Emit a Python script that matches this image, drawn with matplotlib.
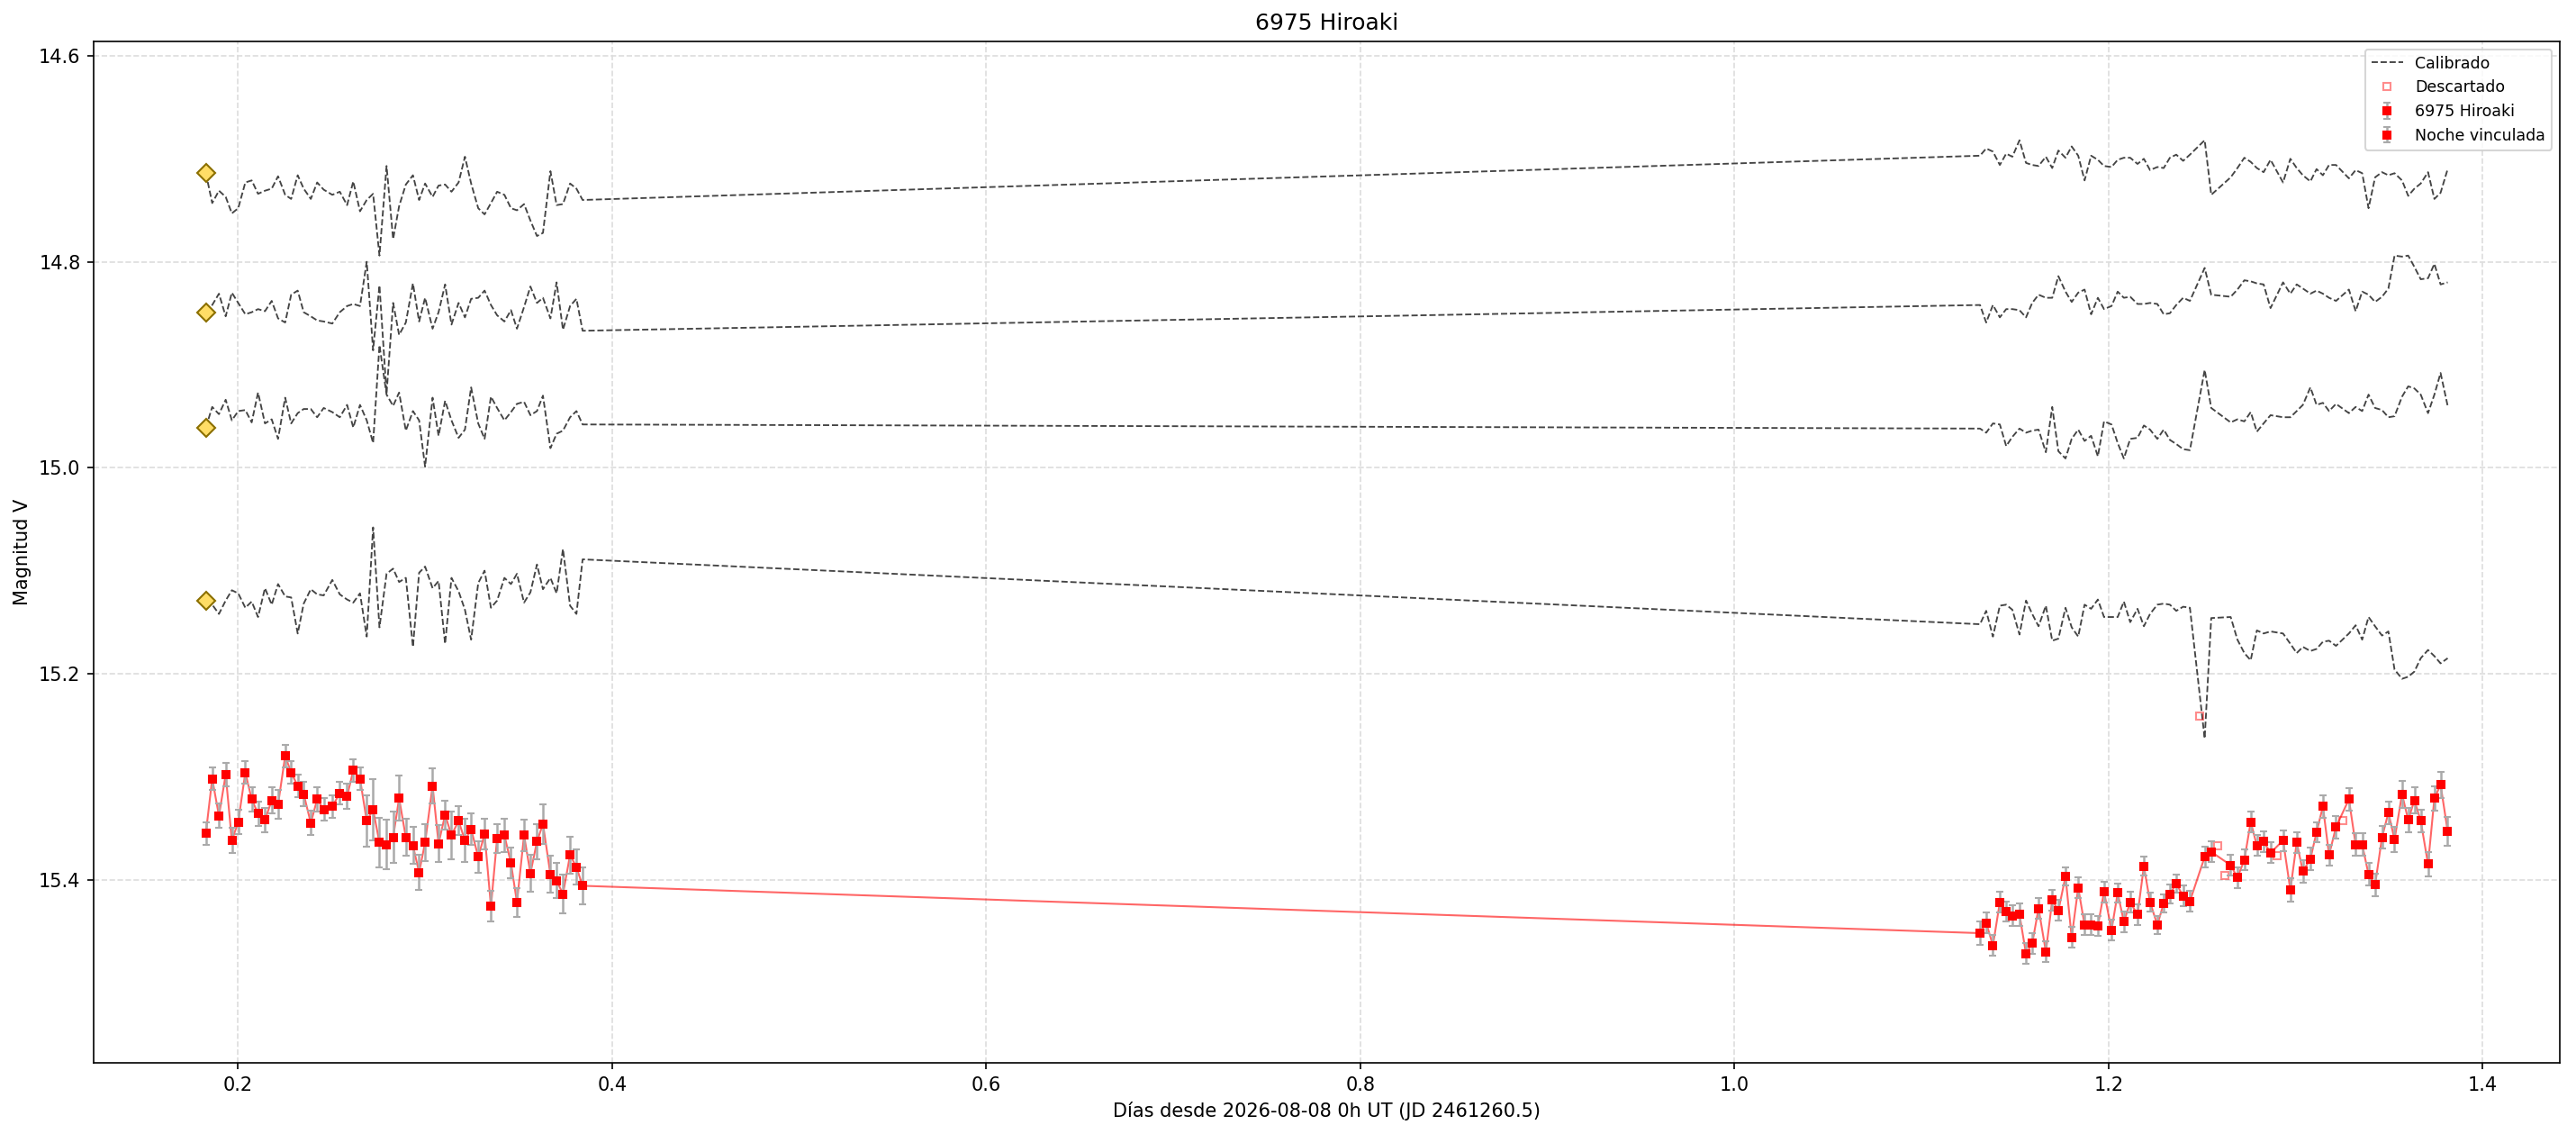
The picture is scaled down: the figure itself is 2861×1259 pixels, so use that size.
import matplotlib
matplotlib.use('Agg')
import matplotlib.pyplot as plt

# --- Night 1 (target) ---
t1 = [0.1829, 0.1863, 0.1899, 0.1935, 0.1968, 0.2002, 0.2040, 0.2074, 0.2108, 0.2145,
      0.2181, 0.2215, 0.2253, 0.2285, 0.2320, 0.2352, 0.2390, 0.2424, 0.2459, 0.2505,
      0.2545, 0.2584, 0.2617, 0.2653, 0.2689, 0.2723, 0.2757, 0.2795, 0.2830, 0.2862,
      0.2898, 0.2936, 0.2969, 0.3001, 0.3041, 0.3073, 0.3108, 0.3142, 0.3180, 0.3214,
      0.3247, 0.3285, 0.3319, 0.3353, 0.3386, 0.3425, 0.3460, 0.3492, 0.3530, 0.3564,
      0.3599, 0.3631, 0.3671, 0.3704, 0.3738, 0.3776, 0.3810, 0.3843]
m1 = [15.355, 15.302, 15.338, 15.298, 15.362, 15.344, 15.296, 15.322, 15.336, 15.342,
      15.323, 15.327, 15.280, 15.296, 15.309, 15.317, 15.345, 15.322, 15.332, 15.329,
      15.316, 15.319, 15.294, 15.302, 15.343, 15.332, 15.364, 15.366, 15.359, 15.321,
      15.359, 15.367, 15.393, 15.364, 15.309, 15.365, 15.337, 15.357, 15.343, 15.362,
      15.351, 15.378, 15.356, 15.426, 15.360, 15.357, 15.384, 15.422, 15.357, 15.394,
      15.363, 15.346, 15.395, 15.401, 15.414, 15.376, 15.388, 15.406]
e1 = [0.011, 0.011, 0.012, 0.011, 0.012, 0.012, 0.011, 0.012, 0.012, 0.012,
      0.013, 0.014, 0.011, 0.011, 0.011, 0.012, 0.012, 0.012, 0.011, 0.011,
      0.011, 0.012, 0.011, 0.011, 0.025, 0.030, 0.024, 0.024, 0.025, 0.022,
      0.018, 0.018, 0.017, 0.018, 0.017, 0.018, 0.014, 0.023, 0.014, 0.021,
      0.015, 0.015, 0.015, 0.015, 0.014, 0.016, 0.015, 0.014, 0.015, 0.018,
      0.017, 0.019, 0.018, 0.017, 0.019, 0.018, 0.017, 0.018]

# --- Night 2 (linked night) ---
t2 = [1.1313, 1.1346, 1.1382, 1.1419, 1.1453, 1.1486, 1.1524, 1.1559, 1.1592, 1.1626,
      1.1665, 1.1699, 1.1732, 1.1770, 1.1803, 1.1838, 1.1872, 1.1907, 1.1943, 1.1976,
      1.2016, 1.2049, 1.2082, 1.2116, 1.2155, 1.2189, 1.2222, 1.2261, 1.2295, 1.2328,
      1.2362, 1.2399, 1.2435, 1.2514, 1.2549, 1.2653, 1.2689, 1.2726, 1.2760, 1.2793,
      1.2829, 1.2866, 1.2933, 1.2972, 1.3006, 1.3039, 1.3079, 1.3112, 1.3146, 1.3179,
      1.3216, 1.3285, 1.3321, 1.3356, 1.3390, 1.3425, 1.3462, 1.3496, 1.3529, 1.3569,
      1.3602, 1.3635, 1.3669, 1.3708, 1.3742, 1.3775, 1.3813]
m2 = [15.452, 15.442, 15.464, 15.422, 15.431, 15.435, 15.434, 15.472, 15.462, 15.428,
      15.470, 15.420, 15.430, 15.397, 15.456, 15.408, 15.444, 15.444, 15.445, 15.412,
      15.449, 15.413, 15.441, 15.422, 15.434, 15.387, 15.422, 15.444, 15.423, 15.414,
      15.404, 15.416, 15.421, 15.378, 15.373, 15.386, 15.398, 15.381, 15.344, 15.367,
      15.363, 15.374, 15.362, 15.410, 15.364, 15.392, 15.380, 15.354, 15.329, 15.376,
      15.349, 15.322, 15.366, 15.366, 15.395, 15.405, 15.359, 15.335, 15.361, 15.317,
      15.342, 15.323, 15.343, 15.385, 15.321, 15.308, 15.353]
e2 = [0.011, 0.010, 0.010, 0.010, 0.010, 0.010, 0.011, 0.010, 0.010, 0.010,
      0.010, 0.010, 0.010, 0.009, 0.010, 0.010, 0.010, 0.010, 0.010, 0.010,
      0.010, 0.009, 0.010, 0.010, 0.010, 0.009, 0.009, 0.009, 0.009, 0.009,
      0.009, 0.010, 0.010, 0.010, 0.010, 0.010, 0.010, 0.010, 0.010, 0.010,
      0.010, 0.010, 0.010, 0.011, 0.010, 0.011, 0.011, 0.010, 0.011, 0.010,
      0.011, 0.011, 0.011, 0.011, 0.011, 0.011, 0.011, 0.011, 0.012, 0.013,
      0.012, 0.013, 0.011, 0.012, 0.012, 0.013, 0.014]

# discarded frames
td = [1.2485, 1.2581, 1.2622, 1.2900, 1.3252]
md = [15.241, 15.367, 15.396, 15.377, 15.343]

# --- calibrated comparison stars (same frames as target) ---
cal1_n1 = [14.714, 14.743, 14.731, 14.737, 14.753, 14.748, 14.723, 14.721, 14.734, 14.731,
           14.729, 14.717, 14.735, 14.739, 14.716, 14.729, 14.739, 14.723, 14.730, 14.735,
           14.732, 14.745, 14.722, 14.751, 14.740, 14.734, 14.794, 14.707, 14.778, 14.746,
           14.725, 14.716, 14.740, 14.724, 14.737, 14.726, 14.725, 14.732, 14.723, 14.698,
           14.724, 14.748, 14.754, 14.743, 14.732, 14.735, 14.748, 14.750, 14.744, 14.760,
           14.775, 14.772, 14.712, 14.745, 14.744, 14.724, 14.729, 14.740]
cal2_n1 = [14.849, 14.842, 14.831, 14.853, 14.830, 14.840, 14.851, 14.849, 14.846, 14.848,
           14.838, 14.855, 14.859, 14.832, 14.828, 14.849, 14.853, 14.857, 14.858, 14.860,
           14.849, 14.843, 14.841, 14.843, 14.800, 14.886, 14.823, 14.928, 14.840, 14.871,
           14.859, 14.821, 14.858, 14.835, 14.865, 14.849, 14.822, 14.861, 14.840, 14.854,
           14.836, 14.835, 14.828, 14.842, 14.852, 14.858, 14.847, 14.865, 14.844, 14.824,
           14.840, 14.835, 14.855, 14.820, 14.866, 14.843, 14.836, 14.867]
cal3_n1 = [14.961, 14.941, 14.948, 14.934, 14.954, 14.945, 14.944, 14.956, 14.927, 14.957,
           14.953, 14.972, 14.932, 14.957, 14.947, 14.943, 14.943, 14.951, 14.942, 14.946,
           14.951, 14.939, 14.961, 14.939, 14.954, 14.976, 14.881, 14.929, 14.940, 14.927,
           14.964, 14.945, 14.954, 14.999, 14.932, 14.969, 14.935, 14.954, 14.971, 14.963,
           14.922, 14.957, 14.972, 14.931, 14.942, 14.954, 14.946, 14.938, 14.936, 14.949,
           14.945, 14.930, 14.981, 14.967, 14.964, 14.951, 14.945, 14.958]
cal4_n1 = [15.129, 15.133, 15.142, 15.129, 15.119, 15.122, 15.136, 15.130, 15.145, 15.117,
           15.133, 15.113, 15.125, 15.126, 15.161, 15.132, 15.118, 15.123, 15.124, 15.109,
           15.123, 15.128, 15.131, 15.122, 15.164, 15.058, 15.155, 15.103, 15.098, 15.111,
           15.107, 15.174, 15.102, 15.096, 15.117, 15.110, 15.171, 15.107, 15.120, 15.138,
           15.167, 15.112, 15.100, 15.136, 15.129, 15.107, 15.113, 15.103, 15.131, 15.121,
           15.094, 15.118, 15.107, 15.122, 15.079, 15.134, 15.142, 15.089]

cal1_n2 = [14.697, 14.690, 14.693, 14.706, 14.695, 14.698, 14.682, 14.704, 14.706, 14.707,
           14.698, 14.709, 14.692, 14.699, 14.688, 14.697, 14.721, 14.697, 14.701, 14.707,
           14.708, 14.701, 14.699, 14.699, 14.705, 14.700, 14.711, 14.708, 14.709, 14.699,
           14.696, 14.702, 14.696, 14.682, 14.735, 14.718, 14.709, 14.699, 14.703, 14.709,
           14.713, 14.701, 14.723, 14.700, 14.709, 14.716, 14.722, 14.710, 14.716, 14.706,
           14.706, 14.719, 14.711, 14.714, 14.748, 14.718, 14.713, 14.716, 14.714, 14.721,
           14.736, 14.729, 14.724, 14.713, 14.739, 14.733, 14.710]
cal2_n2 = [14.842, 14.859, 14.842, 14.854, 14.846, 14.846, 14.847, 14.854, 14.840, 14.832,
           14.835, 14.835, 14.814, 14.829, 14.839, 14.830, 14.827, 14.851, 14.835, 14.846,
           14.843, 14.829, 14.835, 14.834, 14.841, 14.841, 14.840, 14.841, 14.851, 14.850,
           14.842, 14.835, 14.838, 14.806, 14.832, 14.834, 14.827, 14.818, 14.819, 14.821,
           14.822, 14.845, 14.820, 14.831, 14.822, 14.826, 14.831, 14.828, 14.831, 14.835,
           14.838, 14.827, 14.848, 14.829, 14.832, 14.839, 14.834, 14.826, 14.794, 14.795,
           14.794, 14.805, 14.817, 14.816, 14.802, 14.822, 14.820]
cal3_n2 = [14.962, 14.966, 14.957, 14.958, 14.979, 14.970, 14.962, 14.966, 14.964, 14.963,
           14.985, 14.941, 14.984, 14.991, 14.972, 14.963, 14.974, 14.969, 14.989, 14.955,
           14.958, 14.976, 14.991, 14.972, 14.971, 14.959, 14.963, 14.972, 14.963, 14.973,
           14.977, 14.982, 14.983, 14.905, 14.942, 14.956, 14.953, 14.955, 14.946, 14.965,
           14.957, 14.949, 14.951, 14.951, 14.945, 14.939, 14.922, 14.939, 14.937, 14.945,
           14.938, 14.947, 14.941, 14.945, 14.929, 14.942, 14.944, 14.951, 14.950, 14.931,
           14.921, 14.923, 14.929, 14.947, 14.929, 14.908, 14.940]
cal4_n2 = [15.152, 15.139, 15.164, 15.134, 15.133, 15.138, 15.162, 15.129, 15.142, 15.154,
           15.134, 15.168, 15.166, 15.136, 15.155, 15.164, 15.133, 15.137, 15.128, 15.145,
           15.145, 15.145, 15.130, 15.150, 15.137, 15.154, 15.142, 15.133, 15.132, 15.133,
           15.139, 15.135, 15.136, 15.263, 15.146, 15.145, 15.167, 15.180, 15.187, 15.158,
           15.161, 15.159, 15.161, 15.171, 15.180, 15.174, 15.178, 15.176, 15.169, 15.168,
           15.173, 15.161, 15.153, 15.167, 15.145, 15.154, 15.163, 15.159, 15.196, 15.205,
           15.203, 15.198, 15.185, 15.177, 15.183, 15.190, 15.185]

cal_n1 = [cal1_n1, cal2_n1, cal3_n1, cal4_n1]
cal_n2 = [cal1_n2, cal2_n2, cal3_n2, cal4_n2]

fig, ax = plt.subplots(figsize=(2861 / 150, 1259 / 150), dpi=150)
fig.subplots_adjust(left=0.0364, right=0.9937, bottom=0.0627, top=0.9635)

# comparison stars: dashed curves with a diamond on the first frame
for i, (a, b) in enumerate(zip(cal_n1, cal_n2)):
    ax.plot(t1 + t2, a + b, ls='--', color='#444444', lw=0.9,
            label='Calibrado' if i == 0 else None, zorder=2)
    ax.plot(t1[0], a[0], 'D', ms=7, mfc='#ffdd66', mec='#8b6f00', mew=1, zorder=4)

ax.plot(td, md, 's', ms=4, mfc='none', mec='red', mew=1, alpha=0.45,
        label='Descartado', zorder=3)

# target light curve
ax.plot(t1 + t2, m1 + m2, '-', color='red', alpha=0.6, lw=1, zorder=2.5)
ax.errorbar(t1, m1, yerr=e1, fmt='s', color='red', ms=4, ecolor='#aaaaaa',
            elinewidth=1.2, capsize=2, label='6975 Hiroaki', zorder=3)
ax.errorbar(t2, m2, yerr=e2, fmt='s', color='red', ms=4, ecolor='#aaaaaa',
            elinewidth=1.2, capsize=2, label='Noche vinculada', zorder=3)

ax.set_ylim(15.578, 14.586)
ax.grid(True, ls='--', color='#dddddd', lw=0.8)
ax.set_title('6975 Hiroaki')
ax.set_xlabel('Días desde 2026-08-08 0h UT (JD 2461260.5)')
ax.set_ylabel('Magnitud V')
ax.legend(loc='upper right', fontsize='small')

fig.savefig('out.png', dpi=150)
